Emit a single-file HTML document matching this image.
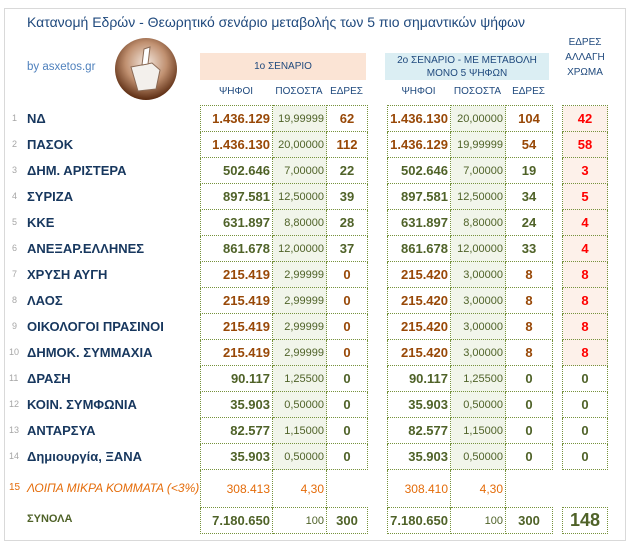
<!DOCTYPE html>
<html><head><meta charset="utf-8"><style>
body{margin:0;width:629px;height:546px;background:#fff;font-family:"Liberation Sans","DejaVu Sans",sans-serif;position:relative;overflow:hidden}
.frame{position:absolute;left:4px;top:8px;width:620px;height:531px;border:1px solid #d9d9d9}
.a{position:absolute;white-space:nowrap}
.title{left:27px;top:14px;font-size:14px;color:#1f497d}
.by{left:27px;top:61px;font-size:11.5px;color:#4f81bd}
.hdr{font-size:10px;color:#1f497d;text-align:center}
table{position:absolute;border-collapse:collapse;table-layout:fixed}
td{border:1px dotted #76923c;height:25px;padding:0 2px;font-size:13px;font-weight:bold;color:#4f6228;text-align:center}
td.v{text-align:right}
td.p{background:#f1f5ea;font-weight:normal;font-size:11px;text-align:right}
.b{color:#984807}
td.r{background:#fdf1ea;color:#ff0000}
tr.o td{border-top:none;border-bottom:none;height:37px;color:#e46c0a;font-weight:normal;font-size:12px;background:#fff}
tr.o td.n{border:none}
tr.t td.p{background:#fff}
.nm{left:12px;font-size:9px;color:#a6a6a6}
.pn{left:27px;font-size:13px;font-weight:bold;color:#17375e}
</style></head><body>
<div class="frame"></div>
<div class="a title">Κατανομή Εδρών - Θεωρητικό σενάριο μεταβολής των 5 πιο σημαντικών ψήφων</div>
<div class="a by">by asxetos.gr</div>
<svg class="a" style="left:114px;top:37px" width="64" height="64"><defs><radialGradient id="g" cx="50%" cy="40%" r="60%"><stop offset="0" stop-color="#f4e8df"/><stop offset="0.55" stop-color="#c09070"/><stop offset="1" stop-color="#5a2a10"/></radialGradient></defs><circle cx="32" cy="32" r="31" fill="url(#g)"/><polygon points="17,30 38,26 46,33 42,52 24,54" fill="#f3f0ec" stroke="#8a6a55" stroke-width="1"/><polygon points="30,12 36,10 34,27 28,28" fill="#fff" stroke="#8a6a55" stroke-width="1"/></svg>
<div class="a" style="left:200px;top:53px;width:166px;height:27px;background:#fbe4d5"></div>
<div class="a hdr" style="left:200px;top:61px;width:166px">1ο ΣΕΝΑΡΙΟ</div>
<div class="a" style="left:385px;top:53px;width:164px;height:27px;background:#dbeef3"></div>
<div class="a hdr" style="left:385px;top:54px;width:164px;line-height:13px">2ο ΣΕΝΑΡΙΟ - ΜΕ ΜΕΤΑΒΟΛΗ<br>ΜΟΝΟ 5 ΨΗΦΩΝ</div>
<div class="a hdr" style="left:560px;top:35px;width:50px;line-height:15px">ΕΔΡΕΣ<br>ΑΛΛΑΓΗ<br>ΧΡΩΜΑ</div>
<div class="a hdr" style="left:200px;top:86px;width:72px">ΨΗΦΟΙ</div>
<div class="a hdr" style="left:272px;top:86px;width:54px">ΠΟΣΟΣΤΑ</div>
<div class="a hdr" style="left:326px;top:86px;width:41px">ΕΔΡΕΣ</div>
<div class="a hdr" style="left:387px;top:86px;width:63px">ΨΗΦΟΙ</div>
<div class="a hdr" style="left:450px;top:86px;width:55px">ΠΟΣΟΣΤΑ</div>
<div class="a hdr" style="left:505px;top:86px;width:47px">ΕΔΡΕΣ</div>

<div class="a nm" style="top:113px">1</div><div class="a pn" style="top:111px">ΝΔ</div>
<div class="a nm" style="top:139px">2</div><div class="a pn" style="top:137px">ΠΑΣΟΚ</div>
<div class="a nm" style="top:165px">3</div><div class="a pn" style="top:163px">ΔΗΜ. ΑΡΙΣΤΕΡΑ</div>
<div class="a nm" style="top:191px">4</div><div class="a pn" style="top:189px">ΣΥΡΙΖΑ</div>
<div class="a nm" style="top:217px">5</div><div class="a pn" style="top:215px">ΚΚΕ</div>
<div class="a nm" style="top:243px">6</div><div class="a pn" style="top:241px">ΑΝΕΞΑΡ.ΕΛΛΗΝΕΣ</div>
<div class="a nm" style="top:269px">7</div><div class="a pn" style="top:267px">ΧΡΥΣΗ ΑΥΓΗ</div>
<div class="a nm" style="top:295px">8</div><div class="a pn" style="top:293px">ΛΑΟΣ</div>
<div class="a nm" style="top:321px">9</div><div class="a pn" style="top:319px">ΟΙΚΟΛΟΓΟΙ ΠΡΑΣΙΝΟΙ</div>
<div class="a nm" style="top:347px;left:9px">10</div><div class="a pn" style="top:345px">ΔΗΜΟΚ. ΣΥΜΜΑΧΙΑ</div>
<div class="a nm" style="top:373px;left:9px">11</div><div class="a pn" style="top:371px">ΔΡΑΣΗ</div>
<div class="a nm" style="top:399px;left:9px">12</div><div class="a pn" style="top:397px">ΚΟΙΝ. ΣΥΜΦΩΝΙΑ</div>
<div class="a nm" style="top:425px;left:9px">13</div><div class="a pn" style="top:423px">ΑΝΤΑΡΣΥΑ</div>
<div class="a nm" style="top:451px;left:9px">14</div><div class="a pn" style="top:449px">Δημιουργία, ΞΑΝΑ</div>
<div class="a" style="left:9px;top:482px;font-size:10px;color:#e46c0a">15</div>
<div class="a" style="left:27px;top:481px;font-size:12px;font-style:italic;color:#e46c0a">ΛΟΙΠΑ ΜΙΚΡΑ ΚΟΜΜΑΤΑ (&lt;3%)</div>
<div class="a" style="left:27px;top:513px;font-size:11px;font-weight:bold;color:#4f6228">ΣΥΝΟΛΑ</div>

<table style="left:200px;top:105px;width:167px">
<colgroup><col style="width:72px"><col style="width:54px"><col style="width:41px"></colgroup>
<tr><td class="v b">1.436.129</td><td class="p">19,99999</td><td class="b">62</td></tr>
<tr><td class="v b">1.436.130</td><td class="p">20,00000</td><td class="b">112</td></tr>
<tr><td class="v">502.646</td><td class="p">7,00000</td><td>22</td></tr>
<tr><td class="v">897.581</td><td class="p">12,50000</td><td>39</td></tr>
<tr><td class="v">631.897</td><td class="p">8,80000</td><td>28</td></tr>
<tr><td class="v">861.678</td><td class="p">12,00000</td><td>37</td></tr>
<tr><td class="v b">215.419</td><td class="p">2,99999</td><td class="b">0</td></tr>
<tr><td class="v b">215.419</td><td class="p">2,99999</td><td class="b">0</td></tr>
<tr><td class="v b">215.419</td><td class="p">2,99999</td><td class="b">0</td></tr>
<tr><td class="v b">215.419</td><td class="p">2,99999</td><td class="b">0</td></tr>
<tr><td class="v">90.117</td><td class="p">1,25500</td><td>0</td></tr>
<tr><td class="v">35.903</td><td class="p">0,50000</td><td>0</td></tr>
<tr><td class="v">82.577</td><td class="p">1,15000</td><td>0</td></tr>
<tr><td class="v">35.903</td><td class="p">0,50000</td><td>0</td></tr>
<tr class="o"><td class="v">308.413</td><td class="p" style="border-left:1px dotted #76923c;border-right:1px dotted #76923c">4,30</td><td class="n"></td></tr>
<tr class="t"><td class="v">7.180.650</td><td class="p">100</td><td>300</td></tr>
</table>

<table style="left:387px;top:105px;width:165px">
<colgroup><col style="width:63px"><col style="width:55px"><col style="width:47px"></colgroup>
<tr><td class="v b">1.436.130</td><td class="p">20,00000</td><td class="b">104</td></tr>
<tr><td class="v b">1.436.129</td><td class="p">19,99999</td><td class="b">54</td></tr>
<tr><td class="v">502.646</td><td class="p">7,00000</td><td>19</td></tr>
<tr><td class="v">897.581</td><td class="p">12,50000</td><td>34</td></tr>
<tr><td class="v">631.897</td><td class="p">8,80000</td><td>24</td></tr>
<tr><td class="v">861.678</td><td class="p">12,00000</td><td>33</td></tr>
<tr><td class="v b">215.420</td><td class="p">3,00000</td><td class="b">8</td></tr>
<tr><td class="v b">215.420</td><td class="p">3,00000</td><td class="b">8</td></tr>
<tr><td class="v b">215.420</td><td class="p">3,00000</td><td class="b">8</td></tr>
<tr><td class="v b">215.420</td><td class="p">3,00000</td><td class="b">8</td></tr>
<tr><td class="v">90.117</td><td class="p">1,25500</td><td>0</td></tr>
<tr><td class="v">35.903</td><td class="p">0,50000</td><td>0</td></tr>
<tr><td class="v">82.577</td><td class="p">1,15000</td><td>0</td></tr>
<tr><td class="v">35.903</td><td class="p">0,50000</td><td>0</td></tr>
<tr class="o"><td class="v">308.410</td><td class="p" style="border-left:1px dotted #76923c;border-right:1px dotted #76923c">4,30</td><td class="n"></td></tr>
<tr class="t"><td class="v">7.180.650</td><td class="p">100</td><td>300</td></tr>
</table>

<table style="left:562px;top:105px;width:45px">
<colgroup><col style="width:45px"></colgroup>
<tr><td class="r">42</td></tr>
<tr><td class="r">58</td></tr>
<tr><td class="r">3</td></tr>
<tr><td class="r">5</td></tr>
<tr><td class="r">4</td></tr>
<tr><td class="r">4</td></tr>
<tr><td class="r">8</td></tr>
<tr><td class="r">8</td></tr>
<tr><td class="r">8</td></tr>
<tr><td class="r">8</td></tr>
<tr><td>0</td></tr>
<tr><td>0</td></tr>
<tr><td>0</td></tr>
<tr><td>0</td></tr>
<tr class="o"><td class="n"></td></tr>
<tr class="t"><td style="font-size:18px">148</td></tr>
</table>
</body></html>
